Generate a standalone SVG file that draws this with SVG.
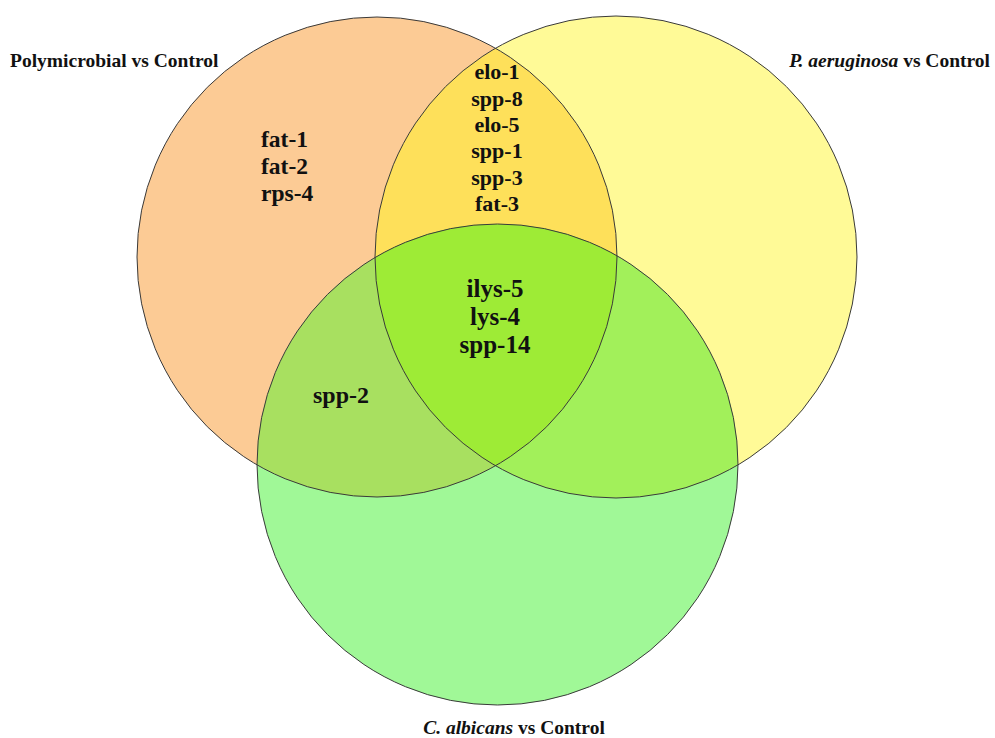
<svg xmlns="http://www.w3.org/2000/svg" width="995" height="738" viewBox="0 0 995 738">
<style>
.lbl{font-family:"Liberation Serif","Times New Roman",serif;font-weight:bold;font-size:19.5px;fill:#111}
.g{font-family:"Liberation Serif","Times New Roman",serif;font-weight:bold;fill:#111}
.edge{fill:none;stroke:#3a3a3a;stroke-width:1}
</style>
<defs>
<clipPath id="cA"><circle cx="377" cy="257" r="240"/></clipPath>
<clipPath id="cB"><circle cx="616" cy="257" r="241"/></clipPath>
<clipPath id="cC"><circle cx="497.5" cy="464.5" r="240.5"/></clipPath>
</defs>
<rect width="995" height="738" fill="#ffffff"/>
<g id="setA"><circle cx="377" cy="257" r="240" fill="#FCCB95"/></g>
<g id="setB"><circle cx="616" cy="257" r="241" fill="#FFFA97"/></g>
<g id="setC"><circle cx="497.5" cy="464.5" r="240.5" fill="#A0F897"/></g>
<g id="overlaps">
<g clip-path="url(#cA)"><circle cx="616" cy="257" r="241" fill="#FEE05A"/></g>
<g clip-path="url(#cA)"><circle cx="497.5" cy="464.5" r="240.5" fill="#A8E060"/></g>
<g clip-path="url(#cB)"><circle cx="497.5" cy="464.5" r="240.5" fill="#A2F05A"/></g>
<g clip-path="url(#cA)"><g clip-path="url(#cB)"><circle cx="497.5" cy="464.5" r="240.5" fill="#9EEB36"/></g></g>
</g>
<g id="outlines">
<circle class="edge" cx="377" cy="257" r="240"/>
<circle class="edge" cx="616" cy="257" r="241"/>
<circle class="edge" cx="497.5" cy="464.5" r="240.5"/>
</g>
<g id="labels">
<text class="lbl" x="10" y="67">Polymicrobial vs Control</text>
<text class="lbl" x="990" y="67" text-anchor="end"><tspan font-style="italic">P. aeruginosa</tspan> vs Control</text>
<text class="lbl" x="514" y="734" text-anchor="middle"><tspan font-style="italic">C. albicans</tspan> vs Control</text>
</g>
<g id="genesA">
<text class="g" x="261" y="147" font-size="23.5">fat-1</text>
<text class="g" x="261" y="174" font-size="23.5">fat-2</text>
<text class="g" x="261" y="201" font-size="23.5">rps-4</text>
</g>
<g id="genesAB">
<text class="g" x="497" y="79" font-size="22" text-anchor="middle">elo-1</text>
<text class="g" x="497" y="105.5" font-size="22" text-anchor="middle">spp-8</text>
<text class="g" x="497" y="132" font-size="22" text-anchor="middle">elo-5</text>
<text class="g" x="497" y="158" font-size="22" text-anchor="middle">spp-1</text>
<text class="g" x="497" y="184.5" font-size="22" text-anchor="middle">spp-3</text>
<text class="g" x="497" y="211" font-size="22" text-anchor="middle">fat-3</text>
</g>
<g id="genesABC">
<text class="g" x="495" y="297" font-size="25" text-anchor="middle">ilys-5</text>
<text class="g" x="495" y="325" font-size="25" text-anchor="middle">lys-4</text>
<text class="g" x="495" y="353" font-size="25" text-anchor="middle">spp-14</text>
</g>
<g id="genesAC">
<text class="g" x="313" y="403" font-size="24">spp-2</text>
</g>
</svg>
